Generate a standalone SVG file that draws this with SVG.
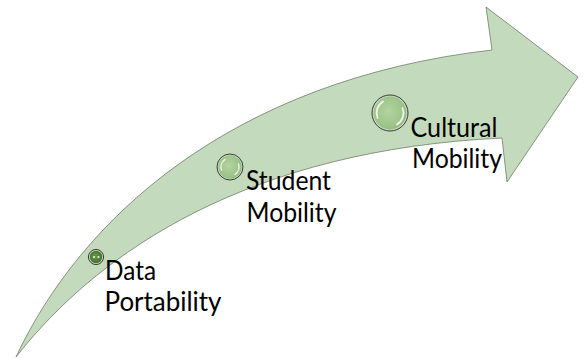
<svg xmlns="http://www.w3.org/2000/svg" width="584" height="358" viewBox="0 0 584 358">
  <style>
    .band { fill: #c4dabc; stroke: #6e7d69; stroke-width: 0.8; stroke-linejoin: miter; }
    .ring { fill: none; stroke: #3c3c3c; stroke-width: 1; }
    .lbl { font-family: Lato, "Liberation Sans", sans-serif; font-size: 26px; fill: #000; }
    .hl { fill: none; stroke: #ffffff; stroke-linecap: round; opacity: 0.85; }
  </style>
  <defs>
    <radialGradient id="gLight" cx="0.45" cy="0.45" r="0.6">
      <stop offset="0" stop-color="#b3d4a2"/>
      <stop offset="0.8" stop-color="#9cc387"/>
      <stop offset="1" stop-color="#8fb87a"/>
    </radialGradient>
    <radialGradient id="gDark" cx="0.45" cy="0.45" r="0.6">
      <stop offset="0" stop-color="#6a9a4a"/>
      <stop offset="1" stop-color="#3f6e28"/>
    </radialGradient>
  </defs>

  <g id="arrow">
    <path class="band" d="M16,357 C80,220 230,80 492,50 L486,7 L578,77 L507,182 L502,138 C250,150 100,250 16,357 Z"/>
  </g>

  <g id="data-portability">
    <circle cx="96" cy="257" r="7.6" fill="#bcd2b2" class="ring"/>
    <circle cx="96" cy="257" r="6.2" fill="url(#gDark)"/>
    <circle cx="94" cy="257" r="1.1" fill="#e8f2e0"/>
    <circle cx="98.5" cy="257" r="1.1" fill="#e8f2e0"/>
    <text class="lbl" x="105" y="280" textLength="51" lengthAdjust="spacingAndGlyphs">Data</text>
    <text class="lbl" x="104.5" y="311" textLength="117" lengthAdjust="spacingAndGlyphs">Portability</text>
  </g>

  <g id="student-mobility">
    <circle cx="230" cy="167" r="13" fill="#c4dabc" class="ring"/>
    <circle cx="230" cy="167" r="11.6" fill="url(#gLight)"/>
    <path class="hl" stroke-width="1.4" d="M221.5,170 A9,9 0 0 1 225,159.5"/>
    <path class="hl" stroke-width="1.4" d="M238.5,164 A9,9 0 0 1 235,174.5"/>
    <text class="lbl" x="246" y="190" textLength="85" lengthAdjust="spacingAndGlyphs">Student</text>
    <text class="lbl" x="246.5" y="221.5" textLength="90" lengthAdjust="spacingAndGlyphs">Mobility</text>
  </g>

  <g id="cultural-mobility">
    <circle cx="390" cy="113" r="18" fill="#c4dabc" class="ring"/>
    <circle cx="390" cy="113" r="16.4" fill="url(#gLight)"/>
    <path class="hl" stroke-width="1.8" d="M377.5,118 A13.5,13.5 0 0 1 383,101.5"/>
    <path class="hl" stroke-width="1.8" d="M402.5,108 A13.5,13.5 0 0 1 397,124.5"/>
    <text class="lbl" x="410.5" y="136.5" textLength="87" lengthAdjust="spacingAndGlyphs">Cultural</text>
    <text class="lbl" x="412" y="168" textLength="90" lengthAdjust="spacingAndGlyphs">Mobility</text>
  </g>
</svg>
